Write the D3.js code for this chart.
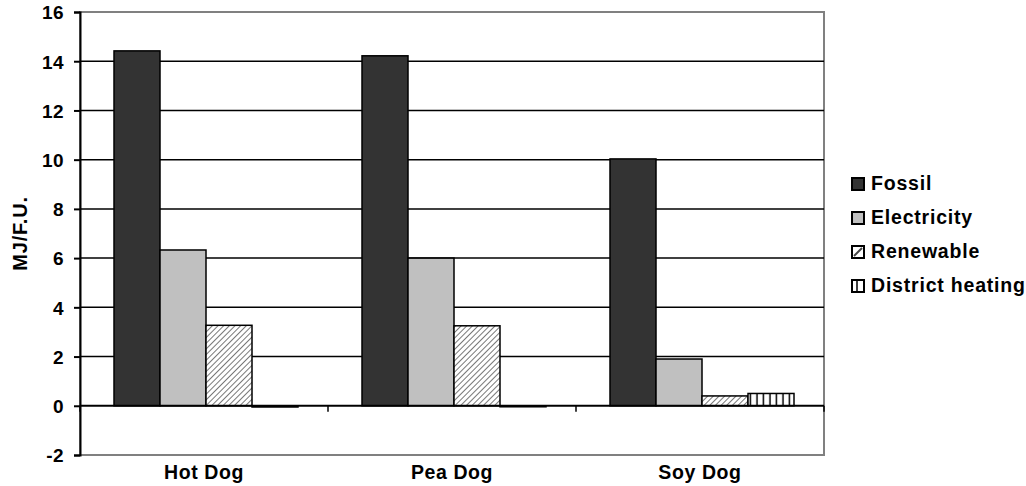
<!DOCTYPE html>
<html><head><meta charset="utf-8">
<script src="https://cdn.jsdelivr.net/npm/d3@7"></script>
<style>body{margin:0;background:#fff}svg{display:block}text{font-family:"Liberation Sans",Arial,sans-serif;font-weight:bold}</style>
</head><body><svg id="c" width="1026" height="486"></svg>
<script>
const categories = ["Hot Dog", "Pea Dog", "Soy Dog"];
const seriesNames = ["Fossil", "Electricity", "Renewable", "District heating"];
const fossil = [14.42, 14.22, 10.03];
const electricity = [6.33, 6.0, 1.9];
const renewable = [3.27, 3.25, 0.4];
const districtHeating = [-0.05, -0.03, 0.5];
const yTicks = [-2, 0, 2, 4, 6, 8, 10, 12, 14, 16];
const yTitle = "MJ/F.U.";

const series = [fossil, electricity, renewable, districtHeating];
const fills = ["#333333", "#c0c0c0", "url(#hatch)", "url(#vert)"];

const svg = d3.select("#c");
const L = 80, R = 824, T = 12, B = 455;

const defs = svg.append("defs");
const h = defs.append("pattern").attr("id","hatch").attr("patternUnits","userSpaceOnUse")
  .attr("width",4).attr("height",4).attr("patternTransform","rotate(45)");
h.append("rect").attr("width",4).attr("height",4).attr("fill","#fff");
h.append("line").attr("x1",0).attr("y1",0).attr("x2",0).attr("y2",4).attr("stroke","#555").attr("stroke-width",1.6);
const v = defs.append("pattern").attr("id","vert").attr("patternUnits","userSpaceOnUse")
  .attr("width",6.5).attr("height",6.5);
v.append("rect").attr("width",6.5).attr("height",6.5).attr("fill","#fff");
v.append("line").attr("x1",3).attr("y1",0).attr("x2",3).attr("y2",6.5).attr("stroke","#000").attr("stroke-width",1.5);

const y = d3.scaleLinear().domain([-2, 16]).range([B, T]);
const x0 = d3.scaleBand().domain(categories).range([L, R]).paddingInner(0).paddingOuter(0);
const x1 = d3.scaleBand().domain(seriesNames).range([34, x0.bandwidth() - 30]).padding(0);

// border
svg.append("rect").attr("x",L).attr("y",T).attr("width",R-L).attr("height",B-T)
  .attr("fill","none").attr("stroke","#808080").attr("stroke-width",2);
// gridlines
svg.append("g").selectAll("line").data(yTicks.filter(t => t > 0 && t < 16)).join("line")
  .attr("x1",L).attr("x2",R).attr("y1",d=>y(d)).attr("y2",d=>y(d))
  .attr("stroke","#000").attr("stroke-width",1.5);

// bars
const g = svg.append("g");
categories.forEach((c, ci) => {
  series.forEach((s, si) => {
    const val = s[ci];
    g.append("rect")
      .attr("x", x0(c) + x1(seriesNames[si]))
      .attr("width", x1.bandwidth())
      .attr("y", y(Math.max(0, val)))
      .attr("height", Math.max(1, Math.abs(y(val) - y(0))))
      .attr("fill", fills[si]).attr("stroke", "#000").attr("stroke-width", 1.5);
  });
});

// zero line + x ticks
svg.append("line").attr("x1",L).attr("x2",R).attr("y1",y(0)).attr("y2",y(0))
  .attr("stroke","#000").attr("stroke-width",2);
const xb = categories.map(c => x0(c)).concat([R]);
svg.append("g").selectAll("line").data(xb).join("line")
  .attr("x1",d=>d).attr("x2",d=>d).attr("y1",y(0)).attr("y2",y(0)+6)
  .attr("stroke","#000").attr("stroke-width",1.5);

// y axis
const ya = svg.append("g").attr("transform",`translate(${L},0)`)
  .call(d3.axisLeft(y).tickValues(yTicks).tickSize(6).tickPadding(10).tickFormat(d => String(d)));
ya.select(".domain").attr("stroke","#000").attr("stroke-width",2);
ya.selectAll(".tick line").attr("stroke","#000").attr("stroke-width",2);
ya.selectAll("text").attr("font-size",19).attr("font-family","Liberation Sans, Arial, sans-serif")
  .attr("font-weight","bold").attr("fill","#000").attr("dy","0.36em").attr("letter-spacing",0.4);

// x labels
svg.append("g").selectAll("text").data(categories).join("text")
  .attr("x", d => x0(d) + x0.bandwidth()/2).attr("y", 479)
  .attr("text-anchor","middle").attr("font-size",19.5).attr("letter-spacing",0.6).text(d=>d);

// y title
svg.append("text").attr("transform",`translate(27,${(T+B)/2}) rotate(-90)`)
  .attr("text-anchor","middle").attr("font-size",20).attr("letter-spacing",0.8).text(yTitle);

// legend
const lg = svg.append("g").attr("transform","translate(851,177)");
seriesNames.forEach((n, i) => {
  const row = lg.append("g").attr("transform",`translate(0,${i*34})`);
  row.append("rect").attr("x",1).attr("y",1).attr("width",12).attr("height",12)
    .attr("fill",fills[i].startsWith("url")?"#fff":fills[i]).attr("stroke","#000").attr("stroke-width",2);
  if (i === 2) row.append("line").attr("x1",3).attr("y1",11).attr("x2",11).attr("y2",3).attr("stroke","#444").attr("stroke-width",2);
  if (i === 3) row.append("line").attr("x1",6).attr("y1",1).attr("x2",6).attr("y2",13).attr("stroke","#000").attr("stroke-width",1.5);
  row.append("text").attr("x",20).attr("y",13).attr("font-size",19.5).attr("letter-spacing",0.8).text(n);
});
</script></body></html>
